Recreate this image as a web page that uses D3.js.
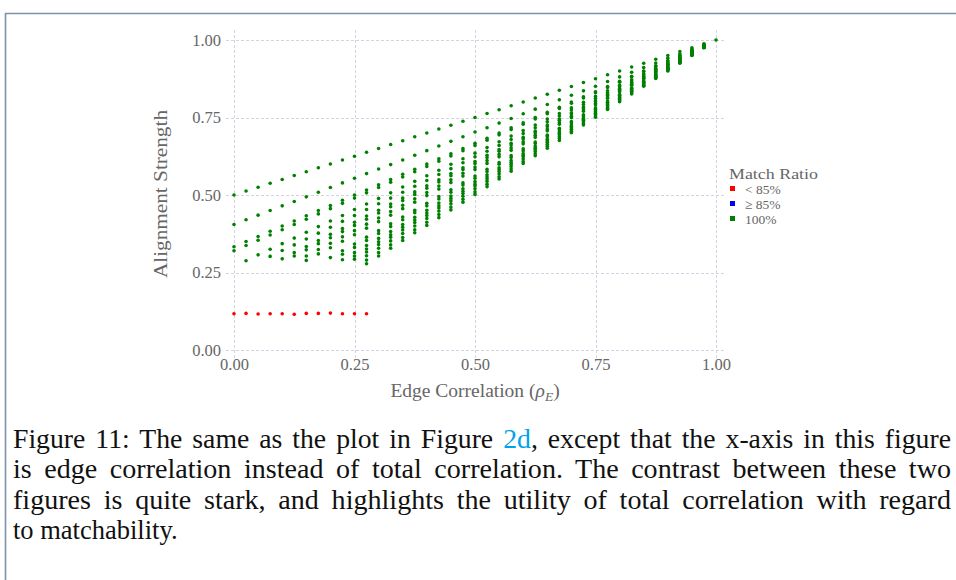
<!DOCTYPE html>
<html>
<head>
<meta charset="utf-8">
<script src="https://cdn.jsdelivr.net/npm/d3@7"></script>
<style>
  html, body { margin: 0; padding: 0; background: #ffffff; }
  svg { display: block; }
</style>
</head>
<body>
<svg id="fig" width="956" height="580"></svg>
<script>
// Edge correlation of each simulated column
const edgeCorr = [0, 0.025, 0.05, 0.075, 0.1, 0.125, 0.15, 0.175, 0.2, 0.225,
  0.25, 0.275, 0.3, 0.325, 0.35, 0.375, 0.4, 0.425, 0.45, 0.475,
  0.5, 0.525, 0.55, 0.575, 0.6, 0.625, 0.65, 0.675, 0.7, 0.725,
  0.75, 0.775, 0.8, 0.825, 0.85, 0.875, 0.9, 0.925, 0.95, 0.975, 1];

// Alignment strength of the fully matched runs (match ratio 100%), one list per column
const fullMatchStrength = [
  [0.5, 0.405, 0.333, 0.32],
  [0.513, 0.42, 0.35, 0.337, 0.288],
  [0.525, 0.435, 0.366, 0.354, 0.307],
  [0.538, 0.45, 0.383, 0.371, 0.325, 0.302],
  [0.55, 0.465, 0.4, 0.388, 0.343, 0.321, 0.294],
  [0.563, 0.479, 0.416, 0.405, 0.361, 0.339, 0.314, 0.303],
  [0.575, 0.494, 0.433, 0.422, 0.38, 0.358, 0.334, 0.323, 0.303, 0.289],
  [0.588, 0.509, 0.45, 0.439, 0.398, 0.377, 0.353, 0.343, 0.324, 0.31],
  [0.6, 0.524, 0.466, 0.456, 0.416, 0.396, 0.373, 0.362, 0.344, 0.33, 0.298],
  [0.613, 0.539, 0.483, 0.473, 0.434, 0.415, 0.392, 0.382, 0.365, 0.351, 0.32, 0.309, 0.291],
  [0.625, 0.554, 0.5, 0.49, 0.453, 0.434, 0.412, 0.402, 0.385, 0.372, 0.342, 0.331, 0.314, 0.303, 0.293],
  [0.638, 0.569, 0.516, 0.507, 0.471, 0.453, 0.432, 0.422, 0.406, 0.393, 0.364, 0.353, 0.337, 0.326, 0.316, 0.304, 0.29, 0.278],
  [0.65, 0.584, 0.533, 0.524, 0.489, 0.472, 0.451, 0.442, 0.426, 0.414, 0.385, 0.376, 0.36, 0.349, 0.34, 0.328, 0.314, 0.303],
  [0.663, 0.598, 0.55, 0.541, 0.507, 0.49, 0.471, 0.462, 0.447, 0.435, 0.407, 0.398, 0.382, 0.372, 0.364, 0.352, 0.339, 0.328],
  [0.675, 0.613, 0.567, 0.558, 0.526, 0.509, 0.49, 0.482, 0.467, 0.456, 0.429, 0.42, 0.405, 0.396, 0.387, 0.376, 0.363, 0.353],
  [0.688, 0.628, 0.583, 0.575, 0.544, 0.528, 0.51, 0.502, 0.488, 0.477, 0.451, 0.443, 0.428, 0.419, 0.411, 0.4, 0.388, 0.378],
  [0.7, 0.643, 0.6, 0.592, 0.562, 0.547, 0.53, 0.522, 0.508, 0.498, 0.473, 0.465, 0.451, 0.442, 0.434, 0.424, 0.412, 0.402],
  [0.713, 0.658, 0.617, 0.609, 0.58, 0.566, 0.549, 0.542, 0.529, 0.519, 0.495, 0.487, 0.474, 0.465, 0.458, 0.448, 0.437, 0.427],
  [0.725, 0.673, 0.633, 0.626, 0.599, 0.585, 0.569, 0.562, 0.549, 0.54, 0.517, 0.509, 0.497, 0.489, 0.481, 0.472, 0.461, 0.452],
  [0.738, 0.688, 0.65, 0.643, 0.617, 0.604, 0.588, 0.582, 0.57, 0.561, 0.539, 0.532, 0.52, 0.512, 0.505, 0.496, 0.486, 0.477],
  [0.75, 0.703, 0.667, 0.66, 0.635, 0.623, 0.608, 0.602, 0.59, 0.582, 0.561, 0.554, 0.543, 0.535, 0.529, 0.52, 0.51, 0.502],
  [0.763, 0.717, 0.683, 0.677, 0.653, 0.641, 0.628, 0.621, 0.611, 0.602, 0.583, 0.576, 0.565, 0.558, 0.552, 0.544, 0.535, 0.527],
  [0.775, 0.732, 0.7, 0.694, 0.672, 0.66, 0.647, 0.641, 0.631, 0.623, 0.605, 0.599, 0.588, 0.582, 0.576, 0.568, 0.559, 0.552],
  [0.788, 0.747, 0.717, 0.711, 0.69, 0.679, 0.667, 0.661, 0.652, 0.644, 0.627, 0.621, 0.611, 0.605, 0.599, 0.592, 0.584, 0.577],
  [0.8, 0.762, 0.733, 0.728, 0.708, 0.698, 0.686, 0.681, 0.672, 0.665, 0.649, 0.643, 0.634, 0.628, 0.623, 0.616, 0.608, 0.602],
  [0.813, 0.777, 0.75, 0.745, 0.726, 0.717, 0.706, 0.701, 0.693, 0.686, 0.671, 0.666, 0.657, 0.651, 0.646, 0.64, 0.633, 0.627],
  [0.825, 0.792, 0.767, 0.762, 0.745, 0.736, 0.726, 0.721, 0.713, 0.707, 0.693, 0.688, 0.68, 0.675, 0.67, 0.664, 0.657, 0.651],
  [0.838, 0.807, 0.783, 0.779, 0.763, 0.755, 0.745, 0.741, 0.734, 0.728, 0.715, 0.71, 0.703, 0.698, 0.694, 0.688, 0.682, 0.676],
  [0.85, 0.822, 0.8, 0.796, 0.781, 0.774, 0.765, 0.761, 0.754, 0.749, 0.737, 0.732, 0.726, 0.721, 0.717, 0.712, 0.706, 0.701],
  [0.863, 0.836, 0.817, 0.813, 0.799, 0.792, 0.784, 0.781, 0.775, 0.77, 0.759, 0.755, 0.748, 0.744, 0.741, 0.736, 0.731, 0.726],
  [0.875, 0.851, 0.833, 0.83, 0.818, 0.811, 0.804, 0.801, 0.795, 0.791, 0.781, 0.777, 0.771, 0.768, 0.764, 0.76, 0.755, 0.751],
  [0.888, 0.866, 0.85, 0.847, 0.836, 0.83, 0.824, 0.821, 0.816, 0.812, 0.803, 0.799, 0.794, 0.791, 0.788, 0.784, 0.78, 0.776],
  [0.9, 0.881, 0.867, 0.864, 0.854, 0.849, 0.843, 0.841, 0.836, 0.833, 0.824, 0.822, 0.817, 0.814, 0.811, 0.808, 0.804, 0.801],
  [0.913, 0.896, 0.883, 0.881, 0.872, 0.868, 0.863, 0.861, 0.857, 0.854, 0.846, 0.844, 0.84, 0.837, 0.835, 0.832, 0.829, 0.826],
  [0.925, 0.911, 0.9, 0.898, 0.891, 0.887, 0.882, 0.881, 0.877, 0.875, 0.868, 0.866, 0.863, 0.861, 0.859, 0.856, 0.853, 0.851],
  [0.938, 0.926, 0.917, 0.915, 0.909, 0.906, 0.902, 0.9, 0.898, 0.895, 0.89, 0.889, 0.886, 0.884, 0.882, 0.88, 0.878, 0.876],
  [0.95, 0.941, 0.933, 0.932, 0.927, 0.925, 0.922, 0.92, 0.918, 0.916, 0.912, 0.911, 0.909, 0.907, 0.906, 0.904, 0.902, 0.9],
  [0.963, 0.955, 0.95, 0.949, 0.945, 0.943, 0.941, 0.94, 0.939, 0.937, 0.934, 0.933, 0.931, 0.93, 0.929, 0.928, 0.927, 0.925],
  [0.975, 0.97, 0.967, 0.966, 0.964, 0.962, 0.961, 0.96, 0.959, 0.958, 0.956, 0.955, 0.954, 0.954, 0.953, 0.952, 0.951, 0.95],
  [0.988, 0.985, 0.983, 0.983, 0.982, 0.981, 0.98, 0.98, 0.98, 0.979, 0.978, 0.978, 0.977, 0.977, 0.976, 0.976, 0.976, 0.975],
  [1]
];

// Runs whose match ratio fell below 85%
const lowMatchCorr = [0, 0.025, 0.05, 0.075, 0.1, 0.125, 0.15, 0.175, 0.2, 0.225, 0.25, 0.275];
const lowMatchStrength = [0.117, 0.118, 0.116, 0.117, 0.117, 0.115, 0.118, 0.118, 0.119, 0.117, 0.117, 0.117];

const xTicks = [0, 0.25, 0.5, 0.75, 1];
const yTicks = [0, 0.25, 0.5, 0.75, 1];
const legendLabels = ["< 85%", "\u2265 85%", "100%"];
const legendColors = ["#ff0000", "#0000ff", "#008000"];

const captionLines = [
  [["Figure 11: The same as the plot in Figure ", null], ["2d", "#00a2e8"], [", except that the x-axis in this figure", null]],
  [["is edge correlation instead of total correlation. The contrast between these two", null]],
  [["figures is quite stark, and highlights the utility of total correlation with regard", null]],
  [["to matchability.", null]]
];

// ---- layout ----
const serif = "'Liberation Serif', 'Times New Roman', serif";
const textGray = "#666666";
const panel = { left: 226, right: 725, top: 30, bottom: 358 };

const svg = d3.select("#fig");

// page frame
svg.append("path")
  .attr("d", "M5.5,600 V13.5 H960")
  .attr("fill", "none")
  .attr("stroke", "#7e92ab")
  .attr("stroke-width", 1.6);

const x = d3.scaleLinear().domain([0, 1]).range([234, 716]);
const y = d3.scaleLinear().domain([0, 1]).range([350, 40]);

// grid
const grid = svg.append("g")
  .attr("stroke", "#d3d3e3")
  .attr("stroke-width", 1)
  .attr("stroke-dasharray", "3,2");
grid.selectAll("line.v").data(xTicks).join("line")
  .attr("class", "v")
  .attr("x1", d => Math.round(x(d)) + 0.5).attr("x2", d => Math.round(x(d)) + 0.5)
  .attr("y1", panel.top).attr("y2", panel.bottom);
grid.selectAll("line.h").data(yTicks).join("line")
  .attr("class", "h")
  .attr("y1", d => Math.round(y(d)) + 0.5).attr("y2", d => Math.round(y(d)) + 0.5)
  .attr("x1", panel.left).attr("x2", panel.right);

// axes (labels only)
const fmt = d3.format(".2f");
const yAxis = svg.append("g")
  .attr("transform", "translate(223,0)")
  .call(d3.axisLeft(y).tickValues(yTicks).tickFormat(fmt).tickSize(0).tickPadding(2));
const xAxis = svg.append("g")
  .attr("transform", `translate(0,${panel.bottom - 2})`)
  .call(d3.axisBottom(x).tickValues(xTicks).tickFormat(fmt).tickSize(0).tickPadding(2));
[xAxis, yAxis].forEach(g => {
  g.select(".domain").remove();
  g.selectAll("text")
    .attr("font-family", serif)
    .attr("font-size", 16.5)
    .attr("fill", textGray);
});

// points: fully matched runs
const fullPts = [];
edgeCorr.forEach((c, i) => fullMatchStrength[i].forEach(s => fullPts.push([c, s])));
svg.append("g").selectAll("circle").data(fullPts).join("circle")
  .attr("cx", d => x(d[0]))
  .attr("cy", d => y(d[1]))
  .attr("r", 1.8)
  .attr("fill", legendColors[2]);

// points: low match ratio runs
svg.append("g").selectAll("circle").data(lowMatchCorr).join("circle")
  .attr("cx", d => x(d))
  .attr("cy", (d, i) => y(lowMatchStrength[i]))
  .attr("r", 1.8)
  .attr("fill", legendColors[0]);

// axis titles
svg.append("text")
  .attr("transform", "translate(167,194) rotate(-90)")
  .attr("text-anchor", "middle")
  .attr("font-family", serif)
  .attr("font-size", 19.5)
  .attr("fill", textGray)
  .attr("textLength", 168)
  .attr("lengthAdjust", "spacingAndGlyphs")
  .text("Alignment Strength");

const xt = svg.append("text")
  .attr("x", 475).attr("y", 397)
  .attr("text-anchor", "middle")
  .attr("font-family", serif)
  .attr("font-size", 19.5)
  .attr("fill", textGray);
xt.append("tspan").text("Edge Correlation (");
xt.append("tspan").attr("font-style", "italic").text("\u03C1");
xt.append("tspan").attr("font-style", "italic").attr("font-size", 13.5).attr("dy", 4).text("E");
xt.append("tspan").attr("dy", -4).text(")");

// legend
const legend = svg.append("g").attr("transform", "translate(729,0)");
legend.append("text")
  .attr("x", 0).attr("y", 178.5)
  .attr("font-family", serif)
  .attr("font-size", 15.5)
  .attr("fill", textGray)
  .attr("textLength", 89)
  .attr("lengthAdjust", "spacingAndGlyphs")
  .text("Match Ratio");
const items = legend.selectAll("g.item").data(legendLabels).join("g")
  .attr("class", "item")
  .attr("transform", (d, i) => `translate(0,${188.5 + i * 15})`);
items.append("rect")
  .attr("x", 1).attr("y", -2.5).attr("width", 5).attr("height", 5)
  .attr("fill", (d, i) => legendColors[i]);
items.append("text")
  .attr("x", 16).attr("y", 5.5)
  .attr("font-family", serif)
  .attr("font-size", 13.5)
  .attr("fill", textGray)
  .text(d => d);

// caption, justified to the text block width
const capLeft = 13, capRight = 951, capSize = 26.5;
const baselines = [447.5, 478, 508.5, 539];
captionLines.forEach((parts, li) => {
  const t = svg.append("text")
    .attr("x", capLeft).attr("y", baselines[li])
    .attr("font-family", serif)
    .attr("font-size", capSize)
    .attr("fill", "#111111");
  parts.forEach(([s, col]) => {
    const ts = t.append("tspan").text(s);
    if (col) ts.attr("fill", col);
  });
  if (li < captionLines.length - 1) {
    const target = capRight - capLeft;
    const natural = t.node().getComputedTextLength();
    const full = parts.map(p => p[0]).join("");
    const n = (full.match(/ /g) || []).length;
    const space = 0.25 * capSize, gap = 10;
    // widen glyphs slightly, put the rest into the word gaps
    const f = Math.max(0.97, Math.min(1.06, (target - n * gap) / (natural - n * space)));
    const ws = (target / f - natural) / n;
    t.attr("word-spacing", ws)
      .attr("textLength", target)
      .attr("lengthAdjust", "spacingAndGlyphs");
  }
});
</script>
</body>
</html>
